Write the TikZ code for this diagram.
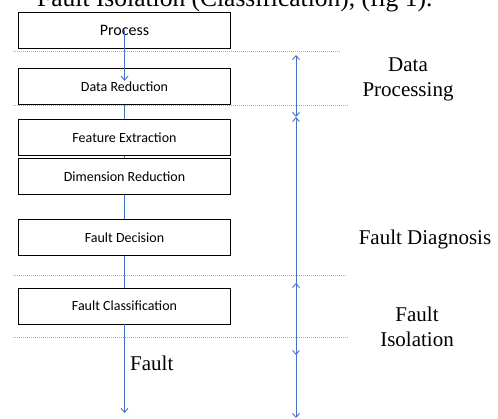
\documentclass[tikz,border=0pt]{standalone}
\usepackage{fontspec}
\setmainfont{Liberation Serif}
\newfontfamily\boxfont{Carlito}
\usetikzlibrary{positioning, arrows.meta}
\definecolor{flowblue}{RGB}{68,114,196}
\definecolor{bandgreen}{RGB}{146,208,80}
\tikzset{
    >={Straight Barb[length=4pt,width=7pt]},
    every node/.style={inner sep=0pt}
}

\begin{document}
\begin{tikzpicture}[
    x=1pt, y=-1pt,
    node distance=20pt,
    stage/.style={draw, line width=0.8pt, minimum width=212pt, minimum height=36pt, align=center, font=\boxfont\fontsize{14}{16}\selectfont},
    lbl/.style={align=center, font=\fontsize{21}{25}\selectfont},
    band/.style={bandgreen, line width=1pt, dash pattern=on 1pt off 1pt},
    flow/.style={flowblue, line width=0.9pt}
]
\useasboundingbox (0,0) rectangle (498,419);

% caption line, cut by the page edge
\node[anchor=base west, font=\fontsize{25.5}{28}\selectfont] (caption) at (37,7) {Fault Isolation (Classification), (fig 1).};

\node[stage, font=\boxfont\fontsize{16}{18}\selectfont] (proc) at (124.5,30) {Process};
\node[stage] (datared) [below=20pt of proc] {Data Reduction};
\node[stage] (featext) [below=14pt of datared] {Feature Extraction};
\node[stage] (dimred) [below=2pt of featext] {Dimension Reduction};
\node[stage] (faultdec) [below=24pt of dimred] {Fault Decision};
\node[stage] (faultcls) [below=32pt of faultdec] {Fault Classification};

% Bands
\foreach \yy/\xe in {52/340, 106/348, 276/347, 338/348}
    \draw[band] (13,\yy) -- (\xe,\yy);

% Flow
\draw[flow, ->] (proc.center) -- ([yshift=6pt]datared.center);
\draw[flow] (datared) -- (featext);
\draw[flow] (featext) -- (dimred);
\draw[flow] (dimred) -- (faultdec);
\draw[flow] (faultdec) -- (faultcls);
\coordinate (faultend) at (124.5,413);
\draw[flow, ->] (faultcls) -- (faultend);
\node[lbl, anchor=west] (faultlbl) at (130,363) {Fault};

% Ranges
\coordinate (dptop) at (296,55);
\coordinate (dpbot) at (296,117);
\coordinate (fdbot) at (296,418);
\coordinate (fitop) at (296,283);
\coordinate (fibot) at (296,355);
\draw[flow, <->] (dptop) -- (dpbot);
\draw[flow, <->] (dpbot) -- (fdbot);
\draw[flow, <->] (fitop) -- (fibot);

\node[lbl] (dplbl) at (408,79) {Data\\Processing};
\node[lbl] (fdlbl) at (425,239) {Fault Diagnosis};
\node[lbl] (filbl) at (417,327) {Fault\\Isolation};

\end{tikzpicture}
\end{document}
